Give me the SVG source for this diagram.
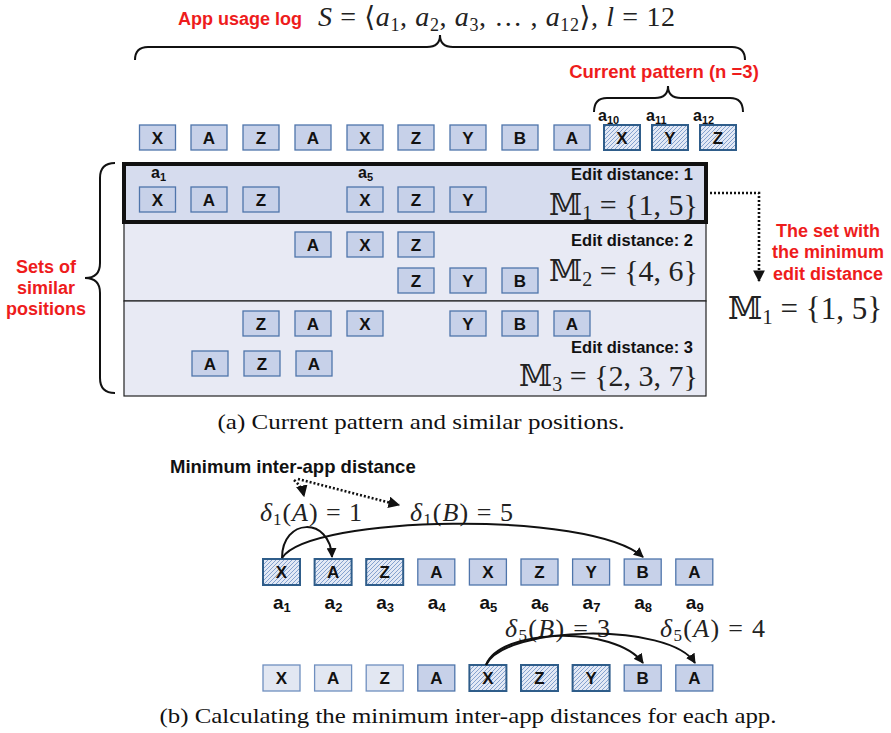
<svg xmlns="http://www.w3.org/2000/svg" width="891" height="733" viewBox="0 0 891 733">
<style>
.bx{fill:#c7d1e9;stroke:#4f75ab;stroke-width:1.3}
.hb{fill:url(#hatch);stroke:#2f5d8a;stroke-width:2}
.lb{fill:#e2e7f2;stroke:#6f8fbf;stroke-width:1.3}
.bt{font-family:"Liberation Sans",Arial,sans-serif;font-weight:bold;font-size:17px;text-anchor:middle;fill:#111}
.red{font-family:"Liberation Sans",Arial,sans-serif;font-weight:bold;font-size:18px;fill:#ee1c1c}
.ed{font-family:"Liberation Sans",Arial,sans-serif;font-weight:bold;font-size:16.5px;text-anchor:end;fill:#111}
.mth{font-family:"Liberation Serif","DejaVu Serif",serif;fill:#222}
.bb{font-family:"DejaVu Serif","DejaVu Sans",serif}
.lab{font-family:"Liberation Sans",Arial,sans-serif;font-weight:bold;fill:#111}
.cap{font-family:"Liberation Serif","DejaVu Serif",serif;font-size:21px;text-anchor:middle;fill:#111}
.brace{fill:none;stroke:#111;stroke-width:2}
.arc{fill:none;stroke:#111;stroke-width:2;marker-end:url(#ah)}
.dot{fill:none;stroke:#111;stroke-width:2.6;stroke-dasharray:2 2}
</style>
<defs>
<pattern id="hatch" patternUnits="userSpaceOnUse" width="4" height="4">
<rect width="4" height="4" fill="#e3e9f5"/>
<path d="M-1,1 L1,-1 M0,4 L4,0 M3,5 L5,3" stroke="#7b9acb" stroke-width="0.9"/>
</pattern>
<marker id="ah" viewBox="0 0 10 10" refX="9" refY="5" markerWidth="5" markerHeight="5" orient="auto" markerUnits="strokeWidth">
<path d="M0,0 L10,5 L0,10 Z" fill="#111"/>
</marker>
<marker id="ahd" viewBox="0 0 10 10" refX="9" refY="5" markerWidth="4.5" markerHeight="4.5" orient="auto" markerUnits="strokeWidth">
<path d="M0,0 L10,5 L0,10 Z" fill="#111"/>
</marker>
</defs>

<!-- header -->
<g id="header">
<text class="red" x="178" y="25">App usage log</text>
<text class="mth" x="318" y="26" style="font-size:28px" textLength="357"><tspan font-style="italic">S</tspan> =  ⟨<tspan font-style="italic">a</tspan><tspan font-size="18" dy="5">1</tspan><tspan dy="-5">, </tspan><tspan font-style="italic">a</tspan><tspan font-size="18" dy="5">2</tspan><tspan dy="-5">, </tspan><tspan font-style="italic">a</tspan><tspan font-size="18" dy="5">3</tspan><tspan dy="-5">, … , </tspan><tspan font-style="italic">a</tspan><tspan font-size="18" dy="5">12</tspan><tspan dy="-5">⟩, </tspan><tspan font-style="italic">l</tspan> = 12</text>
<path class="brace" d="M135,60 Q135,47 148,47 L427,47 Q440,47 440,35 Q440,47 453,47 L732,47 Q745,47 745,60"/>
<text class="red" x="664" y="78" text-anchor="middle" style="font-size:18.5px">Current pattern (n =3)</text>
<path class="brace" d="M594,112 Q594,98 607,98 L655,98 Q668,98 668,86 Q668,98 681,98 L730,98 Q743,98 743,112"/>
<text class="lab" x="598" y="121" style="font-size:16px">a<tspan font-size="11" dy="3">10</tspan></text>
<text class="lab" x="646" y="121" style="font-size:16px">a<tspan font-size="11" dy="3">11</tspan></text>
<text class="lab" x="693" y="121" style="font-size:16px">a<tspan font-size="11" dy="3">12</tspan></text>
</g>

<!-- top sequence -->
<g id="seq-top">
<g id="t1"><rect class="bx" x="139.5" y="125" width="36" height="25"/><text class="bt" x="157.5" y="143.5">X</text></g>
<g id="t2"><rect class="bx" x="191" y="125" width="36" height="25"/><text class="bt" x="209" y="143.5">A</text></g>
<g id="t3"><rect class="bx" x="243" y="125" width="36" height="25"/><text class="bt" x="261" y="143.5">Z</text></g>
<g id="t4"><rect class="bx" x="295" y="125" width="36" height="25"/><text class="bt" x="313" y="143.5">A</text></g>
<g id="t5"><rect class="bx" x="347" y="125" width="36" height="25"/><text class="bt" x="365" y="143.5">X</text></g>
<g id="t6"><rect class="bx" x="398" y="125" width="36" height="25"/><text class="bt" x="416" y="143.5">Z</text></g>
<g id="t7"><rect class="bx" x="450" y="125" width="36" height="25"/><text class="bt" x="468" y="143.5">Y</text></g>
<g id="t8"><rect class="bx" x="502" y="125" width="36" height="25"/><text class="bt" x="520" y="143.5">B</text></g>
<g id="t9"><rect class="bx" x="554" y="125" width="36" height="25"/><text class="bt" x="572" y="143.5">A</text></g>
<g id="t10"><rect class="hb" x="604" y="125" width="36" height="25"/><text class="bt" x="622" y="143.5">X</text></g>
<g id="t11"><rect class="hb" x="652" y="125" width="36" height="25"/><text class="bt" x="670" y="143.5">Y</text></g>
<g id="t12"><rect class="hb" x="700" y="125" width="36" height="25"/><text class="bt" x="718" y="143.5">Z</text></g>
</g>

<!-- panels -->
<g id="panel-2"><rect x="124" y="222" width="582" height="79" fill="#e8eaf4" stroke="#222" stroke-width="1.2"/></g>
<g id="panel-3"><rect x="124" y="301" width="582" height="95" fill="#e8eaf4" stroke="#222" stroke-width="1.2"/></g>
<g id="panel-1"><rect x="124" y="164" width="582" height="58" fill="#d6dcee" stroke="#111" stroke-width="4"/></g>

<g id="set1">
<text class="lab" x="151" y="178" style="font-size:16px">a<tspan font-size="11" dy="3">1</tspan></text>
<text class="lab" x="358" y="178" style="font-size:16px">a<tspan font-size="11" dy="3">5</tspan></text>
<rect class="bx" x="139.5" y="187" width="36" height="25"/><text class="bt" x="157.5" y="205.5">X</text>
<rect class="bx" x="191" y="187" width="36" height="25"/><text class="bt" x="209" y="205.5">A</text>
<rect class="bx" x="243" y="187" width="36" height="25"/><text class="bt" x="261" y="205.5">Z</text>
<rect class="bx" x="347" y="187" width="36" height="25"/><text class="bt" x="365" y="205.5">X</text>
<rect class="bx" x="398" y="187" width="36" height="25"/><text class="bt" x="416" y="205.5">Z</text>
<rect class="bx" x="450" y="187" width="36" height="25"/><text class="bt" x="468" y="205.5">Y</text>
<text class="ed" x="693" y="180">Edit distance: 1</text>
<text class="mth" x="698" y="215" style="font-size:30px" text-anchor="end"><tspan class="bb">𝕄</tspan><tspan font-size="20" dy="5">1</tspan><tspan dy="-5"> = {1, 5}</tspan></text>
</g>

<g id="set2">
<rect class="bx" x="295" y="232" width="36" height="25"/><text class="bt" x="313" y="250.5">A</text>
<rect class="bx" x="347" y="232" width="36" height="25"/><text class="bt" x="365" y="250.5">X</text>
<rect class="bx" x="398" y="232" width="36" height="25"/><text class="bt" x="416" y="250.5">Z</text>
<rect class="bx" x="398" y="268" width="36" height="25"/><text class="bt" x="416" y="286.5">Z</text>
<rect class="bx" x="450" y="268" width="36" height="25"/><text class="bt" x="468" y="286.5">Y</text>
<rect class="bx" x="502" y="268" width="36" height="25"/><text class="bt" x="520" y="286.5">B</text>
<text class="ed" x="693" y="246">Edit distance: 2</text>
<text class="mth" x="698" y="281" style="font-size:30px" text-anchor="end"><tspan class="bb">𝕄</tspan><tspan font-size="20" dy="5">2</tspan><tspan dy="-5"> = {4, 6}</tspan></text>
</g>

<g id="set3">
<rect class="bx" x="243" y="311" width="36" height="25"/><text class="bt" x="261" y="329.5">Z</text>
<rect class="bx" x="295" y="311" width="36" height="25"/><text class="bt" x="313" y="329.5">A</text>
<rect class="bx" x="347" y="311" width="36" height="25"/><text class="bt" x="365" y="329.5">X</text>
<rect class="bx" x="450" y="311" width="36" height="25"/><text class="bt" x="468" y="329.5">Y</text>
<rect class="bx" x="502" y="311" width="36" height="25"/><text class="bt" x="520" y="329.5">B</text>
<rect class="bx" x="554" y="311" width="36" height="25"/><text class="bt" x="572" y="329.5">A</text>
<rect class="bx" x="192" y="351" width="36" height="25"/><text class="bt" x="210" y="369.5">A</text>
<rect class="bx" x="244" y="351" width="36" height="25"/><text class="bt" x="262" y="369.5">Z</text>
<rect class="bx" x="296" y="351" width="36" height="25"/><text class="bt" x="314" y="369.5">A</text>
<text class="ed" x="693" y="353">Edit distance: 3</text>
<text class="mth" x="698" y="386" style="font-size:30px" text-anchor="end"><tspan class="bb">𝕄</tspan><tspan font-size="20" dy="5">3</tspan><tspan dy="-5"> = {2, 3, 7}</tspan></text>
</g>

<g id="sets-label">
<path class="brace" d="M115,163 Q100,163 100,178 L100,263 Q100,278 85,278 Q100,278 100,293 L100,378 Q100,393 115,393"/>
<text class="red" x="46" y="273" text-anchor="middle">Sets of</text>
<text class="red" x="46" y="294" text-anchor="middle">similar</text>
<text class="red" x="46" y="315" text-anchor="middle">positions</text>
</g>

<g id="result">
<text class="red" x="828" y="237" text-anchor="middle">The set with</text>
<text class="red" x="828" y="258" text-anchor="middle">the minimum</text>
<text class="red" x="828" y="280" text-anchor="middle">edit distance</text>
<text class="mth" x="728" y="319" style="font-size:31px"><tspan class="bb">𝕄</tspan><tspan font-size="21" dy="5">1</tspan><tspan dy="-5"> = {1, 5}</tspan></text>
</g>

<text class="cap" x="421" y="429" textLength="407" lengthAdjust="spacingAndGlyphs">(a) Current pattern and similar positions.</text>

<!-- part b -->
<g id="b-title">
<text class="lab" x="170" y="473" style="font-size:18.5px">Minimum inter-app distance</text>
<text class="mth" x="260" y="521" style="font-size:26px" textLength="102"><tspan font-style="italic">δ</tspan><tspan font-size="17" dy="4">1</tspan><tspan dy="-4">(</tspan><tspan font-style="italic">A</tspan>) = 1</text>
<text class="mth" x="410" y="521" style="font-size:26px" textLength="103"><tspan font-style="italic">δ</tspan><tspan font-size="17" dy="4">1</tspan><tspan dy="-4">(</tspan><tspan font-style="italic">B</tspan>) = 5</text>
</g>

<g id="seq-b1">
<g id="b1-1"><rect class="hb" x="263" y="559" width="37" height="26"/><text class="bt" x="281.5" y="578">X</text></g>
<g id="b1-2"><rect class="hb" x="314.6" y="559" width="37" height="26"/><text class="bt" x="333.1" y="578">A</text></g>
<g id="b1-3"><rect class="hb" x="366.2" y="559" width="37" height="26"/><text class="bt" x="384.7" y="578">Z</text></g>
<g id="b1-4"><rect class="bx" x="417.8" y="559" width="37" height="26"/><text class="bt" x="436.3" y="578">A</text></g>
<g id="b1-5"><rect class="bx" x="469.4" y="559" width="37" height="26"/><text class="bt" x="487.9" y="578">X</text></g>
<g id="b1-6"><rect class="bx" x="521" y="559" width="37" height="26"/><text class="bt" x="539.5" y="578">Z</text></g>
<g id="b1-7"><rect class="bx" x="572.6" y="559" width="37" height="26"/><text class="bt" x="591.1" y="578">Y</text></g>
<g id="b1-8"><rect class="bx" x="624.2" y="559" width="37" height="26"/><text class="bt" x="642.7" y="578">B</text></g>
<g id="b1-9"><rect class="bx" x="675.8" y="559" width="37" height="26"/><text class="bt" x="694.3" y="578">A</text></g>
<text class="lab" x="273" y="609" style="font-size:19px">a<tspan font-size="13" dy="3">1</tspan></text>
<text class="lab" x="324.6" y="609" style="font-size:19px">a<tspan font-size="13" dy="3">2</tspan></text>
<text class="lab" x="376.2" y="609" style="font-size:19px">a<tspan font-size="13" dy="3">3</tspan></text>
<text class="lab" x="427.8" y="609" style="font-size:19px">a<tspan font-size="13" dy="3">4</tspan></text>
<text class="lab" x="479.4" y="609" style="font-size:19px">a<tspan font-size="13" dy="3">5</tspan></text>
<text class="lab" x="531" y="609" style="font-size:19px">a<tspan font-size="13" dy="3">6</tspan></text>
<text class="lab" x="582.6" y="609" style="font-size:19px">a<tspan font-size="13" dy="3">7</tspan></text>
<text class="lab" x="634.2" y="609" style="font-size:19px">a<tspan font-size="13" dy="3">8</tspan></text>
<text class="lab" x="685.8" y="609" style="font-size:19px">a<tspan font-size="13" dy="3">9</tspan></text>
</g>

<g id="seq-b2">
<g id="b2-1"><rect class="lb" x="263" y="665" width="37" height="26"/><text class="bt" x="281.5" y="684">X</text></g>
<g id="b2-2"><rect class="lb" x="314.6" y="665" width="37" height="26"/><text class="bt" x="333.1" y="684">A</text></g>
<g id="b2-3"><rect class="lb" x="366.2" y="665" width="37" height="26"/><text class="bt" x="384.7" y="684">Z</text></g>
<g id="b2-4"><rect class="bx" x="417.8" y="665" width="37" height="26"/><text class="bt" x="436.3" y="684">A</text></g>
<g id="b2-5"><rect class="hb" x="469.4" y="665" width="37" height="26"/><text class="bt" x="487.9" y="684">X</text></g>
<g id="b2-6"><rect class="hb" x="521" y="665" width="37" height="26"/><text class="bt" x="539.5" y="684">Z</text></g>
<g id="b2-7"><rect class="hb" x="572.6" y="665" width="37" height="26"/><text class="bt" x="591.1" y="684">Y</text></g>
<g id="b2-8"><rect class="bx" x="624.2" y="665" width="37" height="26"/><text class="bt" x="642.7" y="684">B</text></g>
<g id="b2-9"><rect class="bx" x="675.8" y="665" width="37" height="26"/><text class="bt" x="694.3" y="684">A</text></g>
<text class="mth" x="505" y="637" style="font-size:26px" textLength="105"><tspan font-style="italic">δ</tspan><tspan font-size="17" dy="4">5</tspan><tspan dy="-4">(</tspan><tspan font-style="italic">B</tspan>) = 3</text>
<text class="mth" x="660" y="637" style="font-size:26px" textLength="105"><tspan font-style="italic">δ</tspan><tspan font-size="17" dy="4">5</tspan><tspan dy="-4">(</tspan><tspan font-style="italic">A</tspan>) = 4</text>
</g>

<g id="connectors">
<path class="dot" d="M706,193 L759,193 L759,281" marker-end="url(#ahd)"/>
<path class="dot" d="M294,480 Q302,487 304,496" marker-end="url(#ahd)"/>
<path class="dot" d="M298,479 L399,505" marker-end="url(#ahd)"/>
<path class="arc" d="M282,558 C282,518 330,516 332,557"/>
<path class="arc" d="M282,558 C310,515 590,510 643,557"/>
<path class="arc" d="M486,665 C500,628 615,625 643,663"/>
<path class="arc" d="M486,665 C505,625 670,622 695,663"/>
</g>

<text class="cap" x="468" y="723" textLength="617" lengthAdjust="spacingAndGlyphs">(b) Calculating the minimum inter-app distances for each app.</text>
</svg>
